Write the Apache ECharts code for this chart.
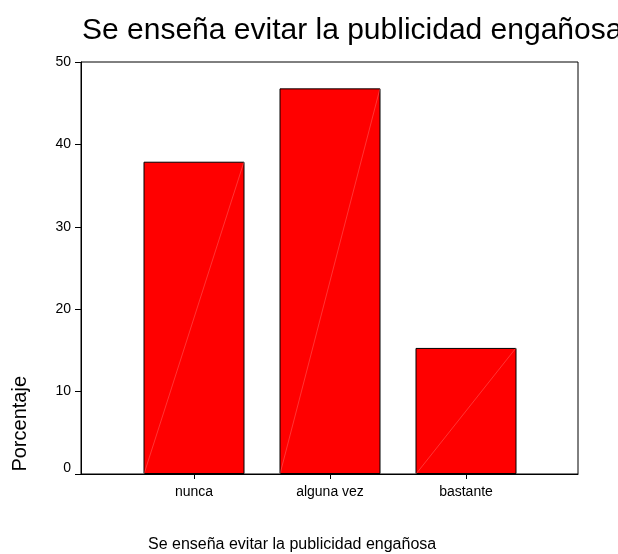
<!DOCTYPE html>
<html>
<head>
<meta charset="utf-8">
<script src="https://cdn.jsdelivr.net/npm/echarts@6/dist/echarts.min.js"></script>
<style>
html,body{margin:0;padding:0;background:#fff;}
#chart{width:618px;height:554px;}
</style>
</head>
<body>
<div id="chart"></div>
<script>
const categories = ['nunca', 'alguna vez', 'bastante'];
const percentages = [37.9, 46.8, 15.3];
const yTicks = [0, 10, 20, 30, 40, 50];
const titleText = 'Se enseña evitar la publicidad engañosa';
const xAxisTitle = 'Se enseña evitar la publicidad engañosa';
const yAxisTitle = 'Porcentaje';

const FONT = 'Liberation Sans, Arial, sans-serif';
const chart = echarts.init(document.getElementById('chart'), null, {renderer: 'canvas'});

const option = {
  backgroundColor: '#fff',
  animation: false,
  title: [
    {text: titleText, left: 82, top: 16, padding: 0,
     textStyle: {fontFamily: FONT, fontSize: 30, fontWeight: 'normal', color: '#000'}},
    {text: xAxisTitle, left: 148, top: 537, padding: 0,
     textStyle: {fontFamily: FONT, fontSize: 16, fontWeight: 'normal', color: '#000'}}
  ],
  graphic: [
    {type: 'text', left: 10, top: 376, rotation: Math.PI / 2,
     style: {text: yAxisTitle, font: '20px ' + FONT, fill: '#000'}}
  ],
  grid: [
    {left: 81, top: 62, width: 497, height: 412, show: true, borderColor: '#000', borderWidth: 1, backgroundColor: 'transparent'},
    {left: 126, top: 62, width: 408, height: 412}
  ],
  xAxis: [
    {type: 'category', gridIndex: 0, data: categories,
     axisLine: {show: true, lineStyle: {color: '#000', width: 1}},
     axisTick: {show: false}, axisLabel: {show: false}, splitLine: {show: false}},
    {type: 'category', gridIndex: 1, data: categories,
     axisLine: {show: false},
     axisTick: {show: true, alignWithLabel: true, length: 5, lineStyle: {color: '#000'}},
     axisLabel: {fontFamily: FONT, fontSize: 14, color: '#000', margin: 11},
     splitLine: {show: false}}
  ],
  yAxis: [
    {type: 'value', gridIndex: 0, min: yTicks[0], max: yTicks[yTicks.length - 1], interval: 10,
     axisLine: {show: true, lineStyle: {color: '#000', width: 1}},
     axisTick: {show: true, length: 6, lineStyle: {color: '#000'}},
     axisLabel: {fontFamily: FONT, fontSize: 14, color: '#000', margin: 10,
       formatter: function (v) { return v === 0 ? '{z|0}' : String(v); },
       rich: {z: {fontFamily: FONT, fontSize: 14, color: '#000', padding: [0, 0, 12, 0]}}},
     splitLine: {show: false}},
    {type: 'value', gridIndex: 1, min: yTicks[0], max: yTicks[yTicks.length - 1], interval: 10,
     show: false, splitLine: {show: false}}
  ],
  series: [
    {type: 'bar', xAxisIndex: 1, yAxisIndex: 1, data: percentages, barWidth: 101,
     itemStyle: {color: '#ff0000', borderColor: '#000', borderWidth: 1}},
    {type: 'custom', xAxisIndex: 1, yAxisIndex: 1, data: percentages.map((v, i) => [i, v]),
     silent: true, z: 3,
     renderItem: function (params, api) {
       const base = api.coord([api.value(0), 0]);
       const top = api.coord([api.value(0), api.value(1)]);
       const hw = 50;
       return {type: 'line', shape: {x1: base[0] - hw, y1: base[1], x2: base[0] + hw, y2: top[1]},
               style: {stroke: 'rgba(255,190,190,0.55)', lineWidth: 0.5}};
     }}
  ]
};
chart.setOption(option);
</script>
</body>
</html>
